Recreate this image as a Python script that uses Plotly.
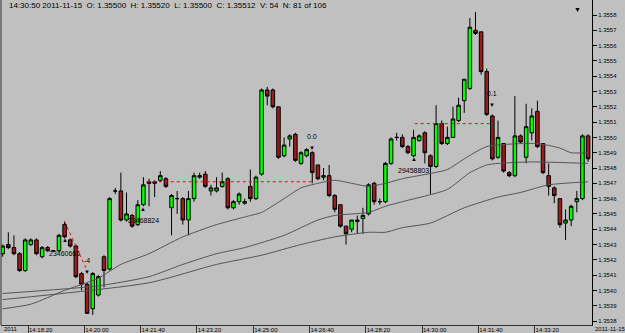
import plotly.graph_objects as go
import pandas as pd

# ---- data -------------------------------------------------------------
bar_start = "2011-11-15 14:17:30"
bar_seconds = 10

opens = [1.35424, 1.35430, 1.35428, 1.35424, 1.35413, 1.35430, 1.35433, 1.35422, 1.35428, 1.35426,
         1.35426, 1.35443, 1.35433, 1.35429, 1.35411, 1.35404, 1.35388, 1.35397, 1.35422, 1.35414,
         1.35465, 1.35465, 1.35446, 1.35449, 1.35443, 1.35456, 1.35471, 1.35470, 1.35472, 1.35473,
         1.35454, 1.35460, 1.35460, 1.35446, 1.35460, 1.35474, 1.35476, 1.35465, 1.35465, 1.35468,
         1.35473, 1.35454, 1.35458, 1.35457, 1.35468, 1.35460, 1.35476, 1.35531, 1.35531, 1.35520,
         1.35488, 1.35499, 1.35502, 1.35483, 1.35488, 1.35490, 1.35482, 1.35474, 1.35475, 1.35462,
         1.35456, 1.35442, 1.35440, 1.35445, 1.35447, 1.35450, 1.35470, 1.35458, 1.35458, 1.35483,
         1.35500, 1.35500, 1.35494, 1.35488, 1.35498, 1.35503, 1.35488, 1.35481, 1.35509, 1.35496,
         1.35500, 1.35511, 1.35524, 1.35532, 1.35570, 1.35569, 1.35543, 1.35514, 1.35487, 1.35496,
         1.35477, 1.35475, 1.35501, 1.35487, 1.35503, 1.35517, 1.35496, 1.35475, 1.35467, 1.35460,
         1.35444, 1.35446, 1.35458, 1.35460, 1.35501]
highs = [1.35430, 1.35438, 1.35436, 1.35425, 1.35434, 1.35434, 1.35434, 1.35429, 1.35429, 1.35426,
         1.35437, 1.35445, 1.35434, 1.35430, 1.35412, 1.35405, 1.35412, 1.35410, 1.35423, 1.35461,
         1.35467, 1.35477, 1.35464, 1.35450, 1.35459, 1.35474, 1.35473, 1.35472, 1.35478, 1.35474,
         1.35463, 1.35465, 1.35461, 1.35465, 1.35477, 1.35477, 1.35478, 1.35469, 1.35474, 1.35477,
         1.35474, 1.35459, 1.35464, 1.35460, 1.35479, 1.35475, 1.35532, 1.35533, 1.35532, 1.35520,
         1.35500, 1.35502, 1.35503, 1.35491, 1.35493, 1.35491, 1.35482, 1.35480, 1.35482, 1.35463,
         1.35456, 1.35442, 1.35446, 1.35449, 1.35454, 1.35470, 1.35471, 1.35460, 1.35484, 1.35500,
         1.35503, 1.35502, 1.35495, 1.35505, 1.35502, 1.35504, 1.35489, 1.35521, 1.35511, 1.35507,
         1.35520, 1.35526, 1.35538, 1.35578, 1.35582, 1.35569, 1.35545, 1.35515, 1.35511, 1.35496,
         1.35478, 1.35527, 1.35502, 1.35522, 1.35519, 1.35524, 1.35496, 1.35483, 1.35468, 1.35460,
         1.35453, 1.35456, 1.35465, 1.35502, 1.35502]
lows = [1.35422, 1.35427, 1.35423, 1.35412, 1.35412, 1.35429, 1.35423, 1.35421, 1.35425, 1.35425,
        1.35425, 1.35434, 1.35428, 1.35408, 1.35400, 1.35385, 1.35384, 1.35396, 1.35402, 1.35413,
        1.35463, 1.35445, 1.35445, 1.35441, 1.35442, 1.35455, 1.35455, 1.35461, 1.35471, 1.35467,
        1.35436, 1.35450, 1.35443, 1.35436, 1.35458, 1.35473, 1.35467, 1.35462, 1.35464, 1.35467,
        1.35453, 1.35453, 1.35456, 1.35456, 1.35458, 1.35459, 1.35475, 1.35521, 1.35519, 1.35486,
        1.35487, 1.35494, 1.35484, 1.35482, 1.35487, 1.35470, 1.35472, 1.35472, 1.35461, 1.35451,
        1.35441, 1.35430, 1.35438, 1.35437, 1.35437, 1.35449, 1.35456, 1.35456, 1.35457, 1.35482,
        1.35498, 1.35493, 1.35489, 1.35487, 1.35497, 1.35483, 1.35463, 1.35480, 1.35495, 1.35495,
        1.35500, 1.35510, 1.35516, 1.35531, 1.35567, 1.35541, 1.35514, 1.35485, 1.35486, 1.35477,
        1.35474, 1.35474, 1.35496, 1.35483, 1.35498, 1.35493, 1.35476, 1.35462, 1.35457, 1.35441,
        1.35433, 1.35442, 1.35451, 1.35459, 1.35484]
closes = [1.35429, 1.35428, 1.35424, 1.35413, 1.35433, 1.35433, 1.35424, 1.35428, 1.35426, 1.35426,
          1.35436, 1.35435, 1.35429, 1.35409, 1.35404, 1.35385, 1.35411, 1.35409, 1.35413, 1.35460,
          1.35465, 1.35446, 1.35450, 1.35442, 1.35456, 1.35469, 1.35470, 1.35471, 1.35475, 1.35468,
          1.35462, 1.35460, 1.35446, 1.35460, 1.35475, 1.35475, 1.35468, 1.35467, 1.35467, 1.35471,
          1.35454, 1.35458, 1.35463, 1.35458, 1.35460, 1.35474, 1.35531, 1.35527, 1.35520, 1.35487,
          1.35495, 1.35501, 1.35485, 1.35490, 1.35492, 1.35477, 1.35473, 1.35475, 1.35462, 1.35453,
          1.35442, 1.35437, 1.35446, 1.35446, 1.35449, 1.35469, 1.35458, 1.35458, 1.35483, 1.35499,
          1.35500, 1.35494, 1.35490, 1.35500, 1.35501, 1.35490, 1.35481, 1.35509, 1.35496, 1.35500,
          1.35512, 1.35521, 1.35538, 1.35572, 1.35568, 1.35543, 1.35515, 1.35486, 1.35500, 1.35478,
          1.35475, 1.35501, 1.35497, 1.35507, 1.35514, 1.35494, 1.35477, 1.35468, 1.35462, 1.35443,
          1.35446, 1.35455, 1.35460, 1.35501, 1.35486]
volume_bar80 = 54

# moving-average lines at selected bars
ma1_bars = [0, 5, 11, 17, 21, 26, 32, 38, 43, 46, 50, 53, 56, 59, 62, 65, 68, 71, 79, 82, 86, 95, 99, 101, 104]
ma1 = [1.35388, 1.35391, 1.35400, 1.35408, 1.35417, 1.35424, 1.35435, 1.35443, 1.35448, 1.35451,
       1.35460, 1.35467, 1.35470, 1.35472, 1.35470, 1.35468, 1.35470, 1.35473, 1.35479, 1.35486,
       1.35494, 1.35496, 1.35493, 1.35490, 1.35490]
ma2_bars = [0, 17, 26, 32, 38, 43, 50, 56, 59, 65, 68, 71, 79, 83, 86, 88, 94, 104]
ma2 = [1.35398, 1.35403, 1.35409, 1.35417, 1.35424, 1.35428, 1.35436, 1.35446, 1.35449, 1.35451,
       1.35455, 1.35458, 1.35466, 1.35477, 1.35482, 1.35483, 1.35484, 1.35483]
ma3_bars = [0, 26, 38, 46, 53, 59, 65, 68, 71, 76, 82, 88, 92, 97, 104]
ma3 = [1.35394, 1.35405, 1.35417, 1.35423, 1.35430, 1.35435, 1.35438, 1.35438, 1.35441, 1.35444,
       1.35454, 1.35461, 1.35464, 1.35469, 1.35471]

# x-axis tick labels
tick_times = ["14:18:20", "14:20:00", "14:21:40", "14:23:20", "14:25:00",
              "14:26:40", "14:28:20", "14:30:00", "14:31:40", "14:33:20"]

# red dotted levels (time, price)
dotted_lines = [
    (["14:19:25", "14:20:05"], [1.35445, 1.35413]),
    (["14:21:51", "14:26:46"], [1.35471, 1.35471]),
    (["14:29:47", "14:32:04"], [1.35509, 1.35509]),
]
# up-arrows with numbers under bars / down-arrows with values above bars
up_marks = [(11, 1.35433, 1.35428, "23460665"),
            (25, 1.35453, 1.35449, "23468824"),
            (73, 1.35486, 1.35482, "29458803")]
down_marks = [(15, 1.35412, 1.35416, "-4"),
              (55, 1.35493, 1.35497, "0.0"),
              (87, 1.35521, 1.35525, "0.1")]

# ---- figure -----------------------------------------------------------
start = pd.Timestamp(bar_start)
times = [start + pd.Timedelta(seconds=bar_seconds * i) for i in range(len(opens))]
centers = [t + pd.Timedelta(seconds=bar_seconds / 2) for t in times]
day = start.strftime("%Y-%m-%d")

BG = "#c0c0c0"
fig = go.Figure()

for bars, vals in [(ma1_bars, ma1), (ma2_bars, ma2), (ma3_bars, ma3)]:
    fig.add_trace(go.Scatter(x=[centers[b] for b in bars], y=vals, mode="lines",
                             line=dict(color="#555555", width=1, shape="spline", smoothing=0.6),
                             hoverinfo="skip", showlegend=False))

fig.add_trace(go.Candlestick(
    x=centers, open=opens, high=highs, low=lows, close=closes,
    increasing=dict(line=dict(color="#000000", width=1), fillcolor="#00ff00"),
    decreasing=dict(line=dict(color="#000000", width=1), fillcolor="#9a1c1c"),
    whiskerwidth=0, showlegend=False))

for ts, ps in dotted_lines:
    fig.add_trace(go.Scatter(x=[day + " " + t for t in ts], y=ps, mode="lines",
                             line=dict(color="#ff0000", width=1, dash="dot"),
                             hoverinfo="skip", showlegend=False))

ann = []
for b, pa, pt, txt in up_marks:
    ann.append(dict(x=centers[b], y=pa, text="▲", showarrow=False,
                    font=dict(size=6, color="#000000")))
    ann.append(dict(x=centers[b], y=pt, text=txt, showarrow=False, yanchor="top",
                    font=dict(size=7, color="#000000", family="Liberation Sans")))
for b, pa, pt, txt in down_marks:
    ann.append(dict(x=centers[b], y=pa, text="▼", showarrow=False,
                    font=dict(size=6, color="#000000")))
    ann.append(dict(x=centers[b], y=pt, text=txt, showarrow=False, yanchor="bottom",
                    font=dict(size=7, color="#000000", family="Liberation Sans")))

header = "%s %s  O: %.5f  H: %.5f  L: %.5f  C: %.5f  V: %d  N: %d of %d" % (
    times[80].strftime("%H:%M:%S"), day, opens[80], highs[80], lows[80], closes[80],
    volume_bar80, 81, 106)
ann.append(dict(xref="paper", yref="paper", x=6 / 591, y=1 - 6 / 325, xanchor="left",
                yanchor="middle", text=header, showarrow=False,
                font=dict(size=8, color="#000000", family="Liberation Sans")))
ann.append(dict(xref="paper", yref="paper", x=582 / 591, y=1 - 3 / 325, text="▼",
                showarrow=False, font=dict(size=7, color="#000000")))
ann.append(dict(xref="paper", yref="paper", x=1 / 591, y=-4 / 325, xanchor="left",
                yanchor="middle", text=start.strftime("%Y"), showarrow=False,
                font=dict(size=6, color="#000000", family="Liberation Sans")))
ann.append(dict(xref="paper", yref="paper", x=592 / 591, y=-4 / 325, xanchor="left",
                yanchor="middle", text=day, showarrow=False,
                font=dict(size=6, color="#000000", family="Liberation Sans")))

fig.update_layout(
    width=625, height=333,
    margin=dict(l=1, r=33, t=0, b=8),
    paper_bgcolor=BG, plot_bgcolor=BG,
    boxgap=0.1,
    annotations=ann,
    showlegend=False,
    xaxis=dict(
        type="date",
        range=[day + " 14:17:32", day + " 14:35:02"],
        rangeslider=dict(visible=False),
        tickvals=[day + " " + t for t in tick_times],
        ticktext=tick_times,
        ticks="outside", ticklen=8, tickcolor="#333333", tickwidth=1,
        ticklabelposition="outside right", ticklabelstandoff=-1,
        showline=True, linecolor="#333333", linewidth=1,
        showgrid=False, zeroline=False,
        tickfont=dict(size=6, color="#000000", family="Liberation Sans"),
    ),
    yaxis=dict(
        side="right",
        range=[1.353774, 1.355898],
        dtick=0.0001, tick0=1.3538, tickformat=".4f",
        ticks="outside", ticklen=4, tickcolor="#000000",
        showline=True, linecolor="#000000", linewidth=1,
        showgrid=False, zeroline=False,
        tickfont=dict(size=6, color="#000000", family="Liberation Sans"),
    ),
    shapes=[dict(type="line", xref="paper", yref="paper", x0=0, x1=0, y0=0, y1=1,
                 line=dict(color="#333333", width=1))],
)

fig.write_html("out.html")
